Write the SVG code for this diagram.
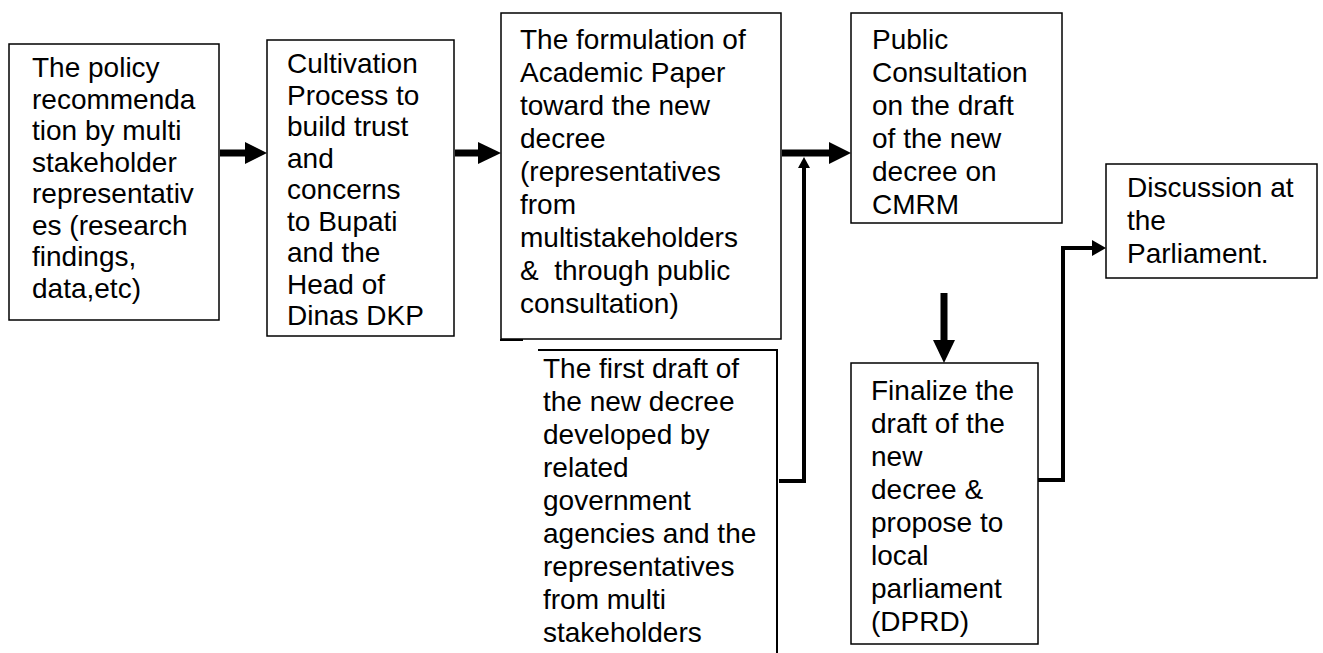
<svg xmlns="http://www.w3.org/2000/svg" width="1323" height="653" viewBox="0 0 1323 653">
<style>
.box{fill:#fff;stroke:#000;stroke-width:1.5}
.t{font-family:"Liberation Sans",Arial,sans-serif;font-size:28px;fill:#000}
.thick{stroke:#000;stroke-width:7;fill:none}
.thin{stroke:#000;stroke-width:4;fill:none}
.head{fill:#000}
</style>
<rect width="1323" height="653" fill="#fff"/>
<g id="n1">
<rect class="box" x="9" y="44" width="210" height="276"/>
<text class="t" x="32" y="77"><tspan x="32">The policy</tspan><tspan x="32" dy="31.5">recommenda</tspan><tspan x="32" dy="31.5">tion by multi</tspan><tspan x="32" dy="31.5">stakeholder</tspan><tspan x="32" dy="31.5">representativ</tspan><tspan x="32" dy="31.5">es (research</tspan><tspan x="32" dy="31.5">findings,</tspan><tspan x="32" dy="31.5">data,etc)</tspan></text>
</g>
<g id="n2">
<rect class="box" x="267" y="40" width="187" height="296"/>
<text class="t" x="287" y="73"><tspan x="287">Cultivation</tspan><tspan x="287" dy="31.5">Process to</tspan><tspan x="287" dy="31.5">build trust</tspan><tspan x="287" dy="31.5">and</tspan><tspan x="287" dy="31.5">concerns</tspan><tspan x="287" dy="31.5">to Bupati</tspan><tspan x="287" dy="31.5">and the</tspan><tspan x="287" dy="31.5">Head of</tspan><tspan x="287" dy="31.5">Dinas DKP</tspan></text>
</g>
<g id="n3">
<rect class="box" x="501" y="13" width="280" height="326"/>
<text class="t" x="520" y="49" xml:space="preserve"><tspan x="520">The formulation of</tspan><tspan x="520" dy="33">Academic Paper</tspan><tspan x="520" dy="33">toward the new</tspan><tspan x="520" dy="33">decree</tspan><tspan x="520" dy="33">(representatives</tspan><tspan x="520" dy="33">from</tspan><tspan x="520" dy="33">multistakeholders</tspan><tspan x="520" dy="33">&amp;  through public</tspan><tspan x="520" dy="33">consultation)</tspan></text>
<line x1="500" y1="340" x2="523" y2="340" stroke="#000" stroke-width="2"/>
</g>
<g id="n4">
<rect class="box" x="851" y="13" width="211" height="210"/>
<text class="t" x="872" y="49"><tspan x="872">Public</tspan><tspan x="872" dy="33">Consultation</tspan><tspan x="872" dy="33">on the draft</tspan><tspan x="872" dy="33">of the new</tspan><tspan x="872" dy="33">decree on</tspan><tspan x="872" dy="33">CMRM</tspan></text>
</g>
<g id="n5">
<rect class="box" x="1106" y="164" width="211" height="114"/>
<text class="t" x="1127" y="197"><tspan x="1127">Discussion at</tspan><tspan x="1127" dy="33">the</tspan><tspan x="1127" dy="33">Parliament.</tspan></text>
</g>
<g id="n6">
<path d="M538 350 H777 V653" fill="none" stroke="#000" stroke-width="2"/>
<text class="t" x="543" y="378"><tspan x="543">The first draft of</tspan><tspan x="543" dy="33">the new decree</tspan><tspan x="543" dy="33">developed by</tspan><tspan x="543" dy="33">related</tspan><tspan x="543" dy="33">government</tspan><tspan x="543" dy="33">agencies and the</tspan><tspan x="543" dy="33">representatives</tspan><tspan x="543" dy="33">from multi</tspan><tspan x="543" dy="33">stakeholders</tspan></text>
</g>
<g id="n7">
<rect class="box" x="851" y="363" width="187" height="281"/>
<text class="t" x="871" y="400"><tspan x="871">Finalize the</tspan><tspan x="871" dy="33">draft of the</tspan><tspan x="871" dy="33">new</tspan><tspan x="871" dy="33">decree &amp;</tspan><tspan x="871" dy="33">propose to</tspan><tspan x="871" dy="33">local</tspan><tspan x="871" dy="33">parliament</tspan><tspan x="871" dy="33">(DPRD)</tspan></text>
</g>
<g id="connectors">
<line class="thick" x1="220" y1="153" x2="246" y2="153"/>
<polygon class="head" points="245,142 267,153 245,164"/>
<line class="thick" x1="455" y1="153" x2="479" y2="153"/>
<polygon class="head" points="478,142 501,153 478,164"/>
<line class="thick" x1="782" y1="153" x2="830" y2="153"/>
<polygon class="head" points="829,142 851,153 829,164"/>
<path class="thin" d="M779 481 H804 V166"/>
<polygon class="head" points="798,168 804,157 810,168"/>
<line class="thick" x1="944" y1="293" x2="944" y2="341"/>
<polygon class="head" points="933,340 955,340 944,363"/>
<path class="thin" d="M1038 480 H1063 V248 H1094"/>
<polygon class="head" points="1092,240 1106,248 1092,256"/>
</g>
</svg>
